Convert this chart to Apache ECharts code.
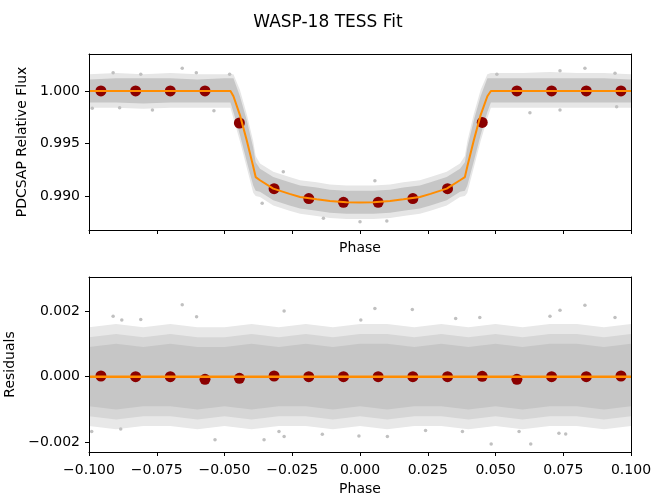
<!DOCTYPE html>
<html>
<head>
<meta charset="utf-8">
<script src="https://cdn.jsdelivr.net/npm/echarts@6/dist/echarts.min.js"></script>
<style>html,body{margin:0;padding:0;background:#fff}#c{width:656px;height:495px}</style>
</head>
<body>
<div id="c"></div>
<script>
// ---- Data ----
const titleText = 'WASP-18 TESS Fit';
const xTicks = [-0.1, -0.075, -0.05, -0.025, 0, 0.025, 0.05, 0.075, 0.1];
const fluxTicks = [0.990, 0.995, 1.000];
const residTicks = [-0.002, 0.000, 0.002];

// binned points
const binPhase = [-0.0956, -0.0828, -0.0700, -0.0572, -0.0445, -0.0317, -0.0189, -0.0061, 0.0067, 0.0195, 0.0323, 0.0451, 0.0579, 0.0707, 0.0835, 0.0963];
const binFlux = [1.0000, 1.0000, 1.0000, 1.0000, 0.99695, 0.99070, 0.98975, 0.98940, 0.98940, 0.98975, 0.99070, 0.99700, 1.0000, 1.0000, 1.0000, 1.0000];
const binResid = [0.00002, 0, 0, -0.00008, -0.00005, 0.00002, 0, 0, 0, 0, 0, 0.00001, -0.00008, 0, 0, 0.00002];

// model curve
const modelPhase = [-0.100, -0.090, -0.080, -0.070, -0.060, -0.050, -0.0478, -0.0467, -0.0443, -0.0418, -0.0394, -0.0385, -0.0369, -0.0320, -0.0260, -0.0221, -0.0160, -0.0111, -0.0050, 0.0000, 0.0050, 0.0111, 0.0160, 0.0221, 0.0260, 0.0320, 0.0369, 0.0387, 0.0396, 0.0420, 0.0445, 0.0470, 0.0483, 0.050, 0.060, 0.070, 0.080, 0.090, 0.100];
const modelFlux = [1.0000, 1.0000, 1.0000, 1.0000, 1.0000, 1.0000, 1.0000, 0.9995, 0.9977, 0.9953, 0.9928, 0.9918, 0.9915, 0.9907, 0.9902, 0.9899, 0.98968, 0.98952, 0.98940, 0.98937, 0.98940, 0.98952, 0.98968, 0.9899, 0.9902, 0.9907, 0.9915, 0.9918, 0.9928, 0.9953, 0.9977, 0.9995, 1.0000, 1.0000, 1.0000, 1.0000, 1.0000, 1.0000, 1.0000];
const residModelPhase = [-0.1, 0.1];
const residModel = [0, 0];

// envelope of the raw-flux scatter cloud (same phase grid as model)
const fluxCoreHi = [1.0011, 1.0012, 1.0012, 1.0012, 1.0011, 1.0012, 1.0012, 1.0012, 0.9995, 0.9972, 0.9946, 0.9932, 0.9926, 0.9918, 0.9913, 0.9910, 0.9908, 0.9906, 0.9905, 0.9905, 0.9905, 0.9906, 0.9908, 0.9910, 0.9913, 0.9918, 0.9926, 0.9932, 0.9946, 0.9972, 0.9995, 1.0012, 1.0012, 1.0012, 1.0012, 1.0012, 1.0012, 1.0012, 1.0011];
const fluxCoreLo = [0.9989, 0.9989, 0.9988, 0.9989, 0.9989, 0.9989, 0.9989, 0.9980, 0.9958, 0.9933, 0.9910, 0.9905, 0.9904, 0.9896, 0.9891, 0.9888, 0.9886, 0.9884, 0.9883, 0.9883, 0.9883, 0.9884, 0.9886, 0.9888, 0.9891, 0.9896, 0.9904, 0.9905, 0.9910, 0.9933, 0.9958, 0.9980, 0.9989, 0.9989, 0.9989, 0.9989, 0.9989, 0.9989, 0.9989];
const fluxFringeHi = [1.0016, 1.0017, 1.0016, 1.0017, 1.0016, 1.0016, 1.0016, 1.0016, 1.0001, 0.9978, 0.9952, 0.9938, 0.9931, 0.9923, 0.9918, 0.9915, 0.9913, 0.9911, 0.9910, 0.9910, 0.9910, 0.9911, 0.9913, 0.9915, 0.9918, 0.9923, 0.9931, 0.9938, 0.9952, 0.9978, 1.0001, 1.0016, 1.0017, 1.0017, 1.0017, 1.0018, 1.0017, 1.0017, 1.0016];
const fluxFringeLo = [0.9984, 0.9984, 0.9983, 0.9984, 0.9984, 0.9984, 0.9984, 0.9974, 0.9952, 0.9927, 0.9903, 0.9900, 0.9899, 0.9891, 0.9886, 0.9883, 0.9881, 0.9879, 0.9878, 0.9878, 0.9878, 0.9879, 0.9881, 0.9883, 0.9886, 0.9891, 0.9899, 0.9900, 0.9903, 0.9927, 0.9952, 0.9974, 0.9984, 0.9984, 0.9984, 0.9984, 0.9984, 0.9984, 0.9984];

// isolated raw-flux points outside the cloud
const fluxOutPhase = [-0.0656, -0.0911, -0.0604, -0.0481, -0.0809, -0.0988, -0.0887, -0.0766, -0.0539, -0.0361, -0.0135, 0.0000, 0.0099, -0.0283, 0.0055, 0.0830, 0.0738, 0.0627, 0.0505, 0.0941, 0.0738, 0.0947];
const fluxOutVal = [1.00216, 1.00174, 1.00174, 1.00160, 1.00160, 0.99835, 0.99841, 0.99819, 0.99812, 0.98930, 0.98788, 0.98755, 0.98762, 0.99231, 0.99146, 1.00216, 1.00193, 0.99793, 1.00160, 1.00169, 0.99819, 0.99850];

// envelope of the residual scatter cloud
const residPhase = [-0.10, -0.09, -0.08, -0.07, -0.06, -0.05, -0.04, -0.03, -0.02, -0.01, 0.00, 0.01, 0.02, 0.03, 0.04, 0.05, 0.06, 0.07, 0.08, 0.09, 0.10];
const residCoreHi = [0.0009, 0.0010, 0.0009, 0.0010, 0.0009, 0.0009, 0.0010, 0.0009, 0.0010, 0.0009, 0.0010, 0.0010, 0.0009, 0.0010, 0.0009, 0.0010, 0.0009, 0.0010, 0.0010, 0.0009, 0.0010];
const residCoreLo = [-0.0009, -0.0010, -0.0009, -0.0009, -0.0010, -0.0009, -0.0010, -0.0009, -0.0009, -0.0010, -0.0009, -0.0010, -0.0009, -0.0009, -0.0010, -0.0009, -0.0010, -0.0009, -0.0009, -0.0010, -0.0009];
const residMidHi = [0.0012, 0.0013, 0.0012, 0.0013, 0.0012, 0.0012, 0.0013, 0.0012, 0.0013, 0.0012, 0.0013, 0.0013, 0.0012, 0.0013, 0.0012, 0.0013, 0.0012, 0.0013, 0.0013, 0.0012, 0.0013];
const residMidLo = [-0.0012, -0.0013, -0.0012, -0.0012, -0.0013, -0.0012, -0.0013, -0.0012, -0.0012, -0.0013, -0.0012, -0.0013, -0.0012, -0.0012, -0.0013, -0.0012, -0.0013, -0.0012, -0.0012, -0.0013, -0.0012];
const residFringeHi = [0.0015, 0.0016, 0.0015, 0.0016, 0.0015, 0.0015, 0.0016, 0.0015, 0.0016, 0.0015, 0.0016, 0.0016, 0.0015, 0.0016, 0.0015, 0.0016, 0.0015, 0.0016, 0.0016, 0.0015, 0.0016];
const residFringeLo = [-0.0015, -0.0016, -0.0015, -0.0015, -0.0016, -0.0015, -0.0016, -0.0015, -0.0015, -0.0016, -0.0015, -0.0016, -0.0015, -0.0015, -0.0016, -0.0015, -0.0016, -0.0015, -0.0015, -0.0016, -0.0015];

// isolated residual points
const residOutPhase = [-0.0656, -0.0603, -0.0911, -0.0879, -0.0809, -0.0535, -0.0354, -0.0883, -0.0990, -0.0280, 0.0055, 0.0193, 0.0003, -0.0280, 0.0101, -0.0299, -0.0004, -0.0139, 0.0242, 0.0830, 0.0738, 0.0701, 0.0353, 0.0442, 0.0484, 0.0630, 0.0734, 0.0759, 0.0587, 0.0378, 0.0941];
const residOutVal = [0.00219, 0.00182, 0.00184, 0.00172, 0.00174, -0.00192, -0.00192, -0.00159, -0.00167, 0.00200, 0.00207, 0.00204, 0.00172, -0.00182, -0.00182, -0.00167, -0.00180, -0.00175, -0.00164, 0.00217, 0.00202, 0.00184, 0.00177, 0.00180, -0.00205, -0.00205, -0.00172, -0.00174, -0.00167, -0.00167, 0.00180];

// ---- Chart ----
const FONT = 'DejaVu Sans';
const fmt = v => (Math.abs(v) < 1e-9 ? '0.000' : v.toFixed(3).replace('-', '\u2212'));
const zip = (a, b) => a.map((v, i) => [v, b[i]]);

function band(xi, yi, ph, hi, lo, color, z) {
  return {
    type: 'custom', xAxisIndex: xi, yAxisIndex: yi, z: z, silent: true,
    data: ph.map((p, i) => [p, hi[i], lo[i]]),
    encode: { x: 0, y: [1, 2] },
    renderItem: function (params, api) {
      if (params.dataIndex !== 0) return null;
      const pts = [];
      for (let i = 0; i < ph.length; i++) pts.push(api.coord([ph[i], hi[i]]));
      for (let i = ph.length - 1; i >= 0; i--) pts.push(api.coord([ph[i], lo[i]]));
      return { type: 'polygon', shape: { points: pts }, style: { fill: color, stroke: null } };
    }
  };
}

function xAx(grid, pos, opts) {
  return Object.assign({
    type: 'value', gridIndex: grid, position: pos, min: -0.1, max: 0.1, interval: 0.025, z: 10,
    axisLine: { show: true, onZero: false, lineStyle: { color: '#000', width: 1 } },
    axisTick: { show: false }, axisLabel: { show: false }, splitLine: { show: false }
  }, opts || {});
}
function yAx(grid, pos, min, max, opts) {
  return Object.assign({
    type: 'value', gridIndex: grid, position: pos, min: min, max: max, z: 10,
    axisLine: { show: true, onZero: false, lineStyle: { color: '#000', width: 1 } },
    axisTick: { show: false }, axisLabel: { show: false }, splitLine: { show: false }
  }, opts || {});
}
const tickStyle = { show: true, inside: false, length: 4, lineStyle: { color: '#000', width: 1 } };
const labelStyle = { show: true, color: '#000', fontFamily: FONT, fontSize: 14 };
const dotStyle = { color: '#8b0000', opacity: 1 };

const option = {
  animation: false,
  backgroundColor: '#fff',
  title: { text: titleText, left: 'center', top: 9, textStyle: { fontFamily: FONT, fontSize: 17, fontWeight: 'normal', color: '#000' } },
  grid: [
    { left: 89, right: 25, top: 54, height: 176, outerBoundsMode: 'none', containLabel: false },
    { left: 89, right: 25, top: 277, height: 175, outerBoundsMode: 'none', containLabel: false }
  ],
  xAxis: [
    xAx(0, 'bottom', { axisTick: tickStyle, name: 'Phase', nameLocation: 'middle', nameGap: 11,
      nameTextStyle: { fontFamily: FONT, fontSize: 14, color: '#000' } }),
    xAx(0, 'top'),
    xAx(1, 'bottom', { axisTick: tickStyle, axisLabel: Object.assign({ margin: 11, formatter: fmt }, labelStyle),
      name: 'Phase', nameLocation: 'middle', nameGap: 30,
      nameTextStyle: { fontFamily: FONT, fontSize: 14, color: '#000' } }),
    xAx(1, 'top')
  ],
  yAxis: [
    yAx(0, 'left', 0.98676, 1.00352, {
      axisTick: Object.assign({ customValues: fluxTicks }, tickStyle),
      axisLabel: Object.assign({ customValues: fluxTicks, margin: 9, formatter: v => v.toFixed(3) }, labelStyle),
      name: 'PDCSAP Relative Flux', nameLocation: 'middle', nameGap: 60,
      nameTextStyle: { fontFamily: FONT, fontSize: 14, color: '#000' } }),
    yAx(0, 'right', 0.98676, 1.00352),
    yAx(1, 'left', -0.00229, 0.00303, {
      axisTick: Object.assign({ customValues: residTicks }, tickStyle),
      axisLabel: Object.assign({ customValues: residTicks, margin: 9, formatter: fmt }, labelStyle),
      name: 'Residuals', nameLocation: 'middle', nameGap: 71,
      nameTextStyle: { fontFamily: FONT, fontSize: 14, color: '#000' } }),
    yAx(1, 'right', -0.00229, 0.00303)
  ],
  series: [
    band(0, 0, modelPhase, fluxFringeHi, fluxFringeLo, '#e6e6e6', 1),
    band(0, 0, modelPhase, fluxCoreHi, fluxCoreLo, '#c6c6c6', 2),
    { type: 'scatter', xAxisIndex: 0, yAxisIndex: 0, z: 3, symbolSize: 3.5, silent: true,
      itemStyle: { color: '#c0c0c0', opacity: 1 }, data: zip(fluxOutPhase, fluxOutVal) },
    { type: 'scatter', xAxisIndex: 0, yAxisIndex: 0, z: 4, symbolSize: 11, silent: true,
      itemStyle: dotStyle, data: zip(binPhase, binFlux) },
    { type: 'line', xAxisIndex: 0, yAxisIndex: 0, z: 5, showSymbol: false, silent: true,
      lineStyle: { color: '#ff8c00', width: 2 }, data: zip(modelPhase, modelFlux) },

    band(2, 2, residPhase, residFringeHi, residFringeLo, '#e8e8e8', 1),
    band(2, 2, residPhase, residMidHi, residMidLo, '#d6d6d6', 1),
    band(2, 2, residPhase, residCoreHi, residCoreLo, '#c6c6c6', 2),
    { type: 'scatter', xAxisIndex: 2, yAxisIndex: 2, z: 3, symbolSize: 3.5, silent: true,
      itemStyle: { color: '#c0c0c0', opacity: 1 }, data: zip(residOutPhase, residOutVal) },
    { type: 'scatter', xAxisIndex: 2, yAxisIndex: 2, z: 4, symbolSize: 11, silent: true,
      itemStyle: dotStyle, data: zip(binPhase, binResid) },
    { type: 'line', xAxisIndex: 2, yAxisIndex: 2, z: 5, showSymbol: false, silent: true,
      lineStyle: { color: '#ff8c00', width: 2.5 }, data: zip(residModelPhase, residModel) }
  ]
};
const chart = echarts.init(document.getElementById('c'), null, { renderer: 'canvas' });
chart.setOption(option);
</script>
</body>
</html>
